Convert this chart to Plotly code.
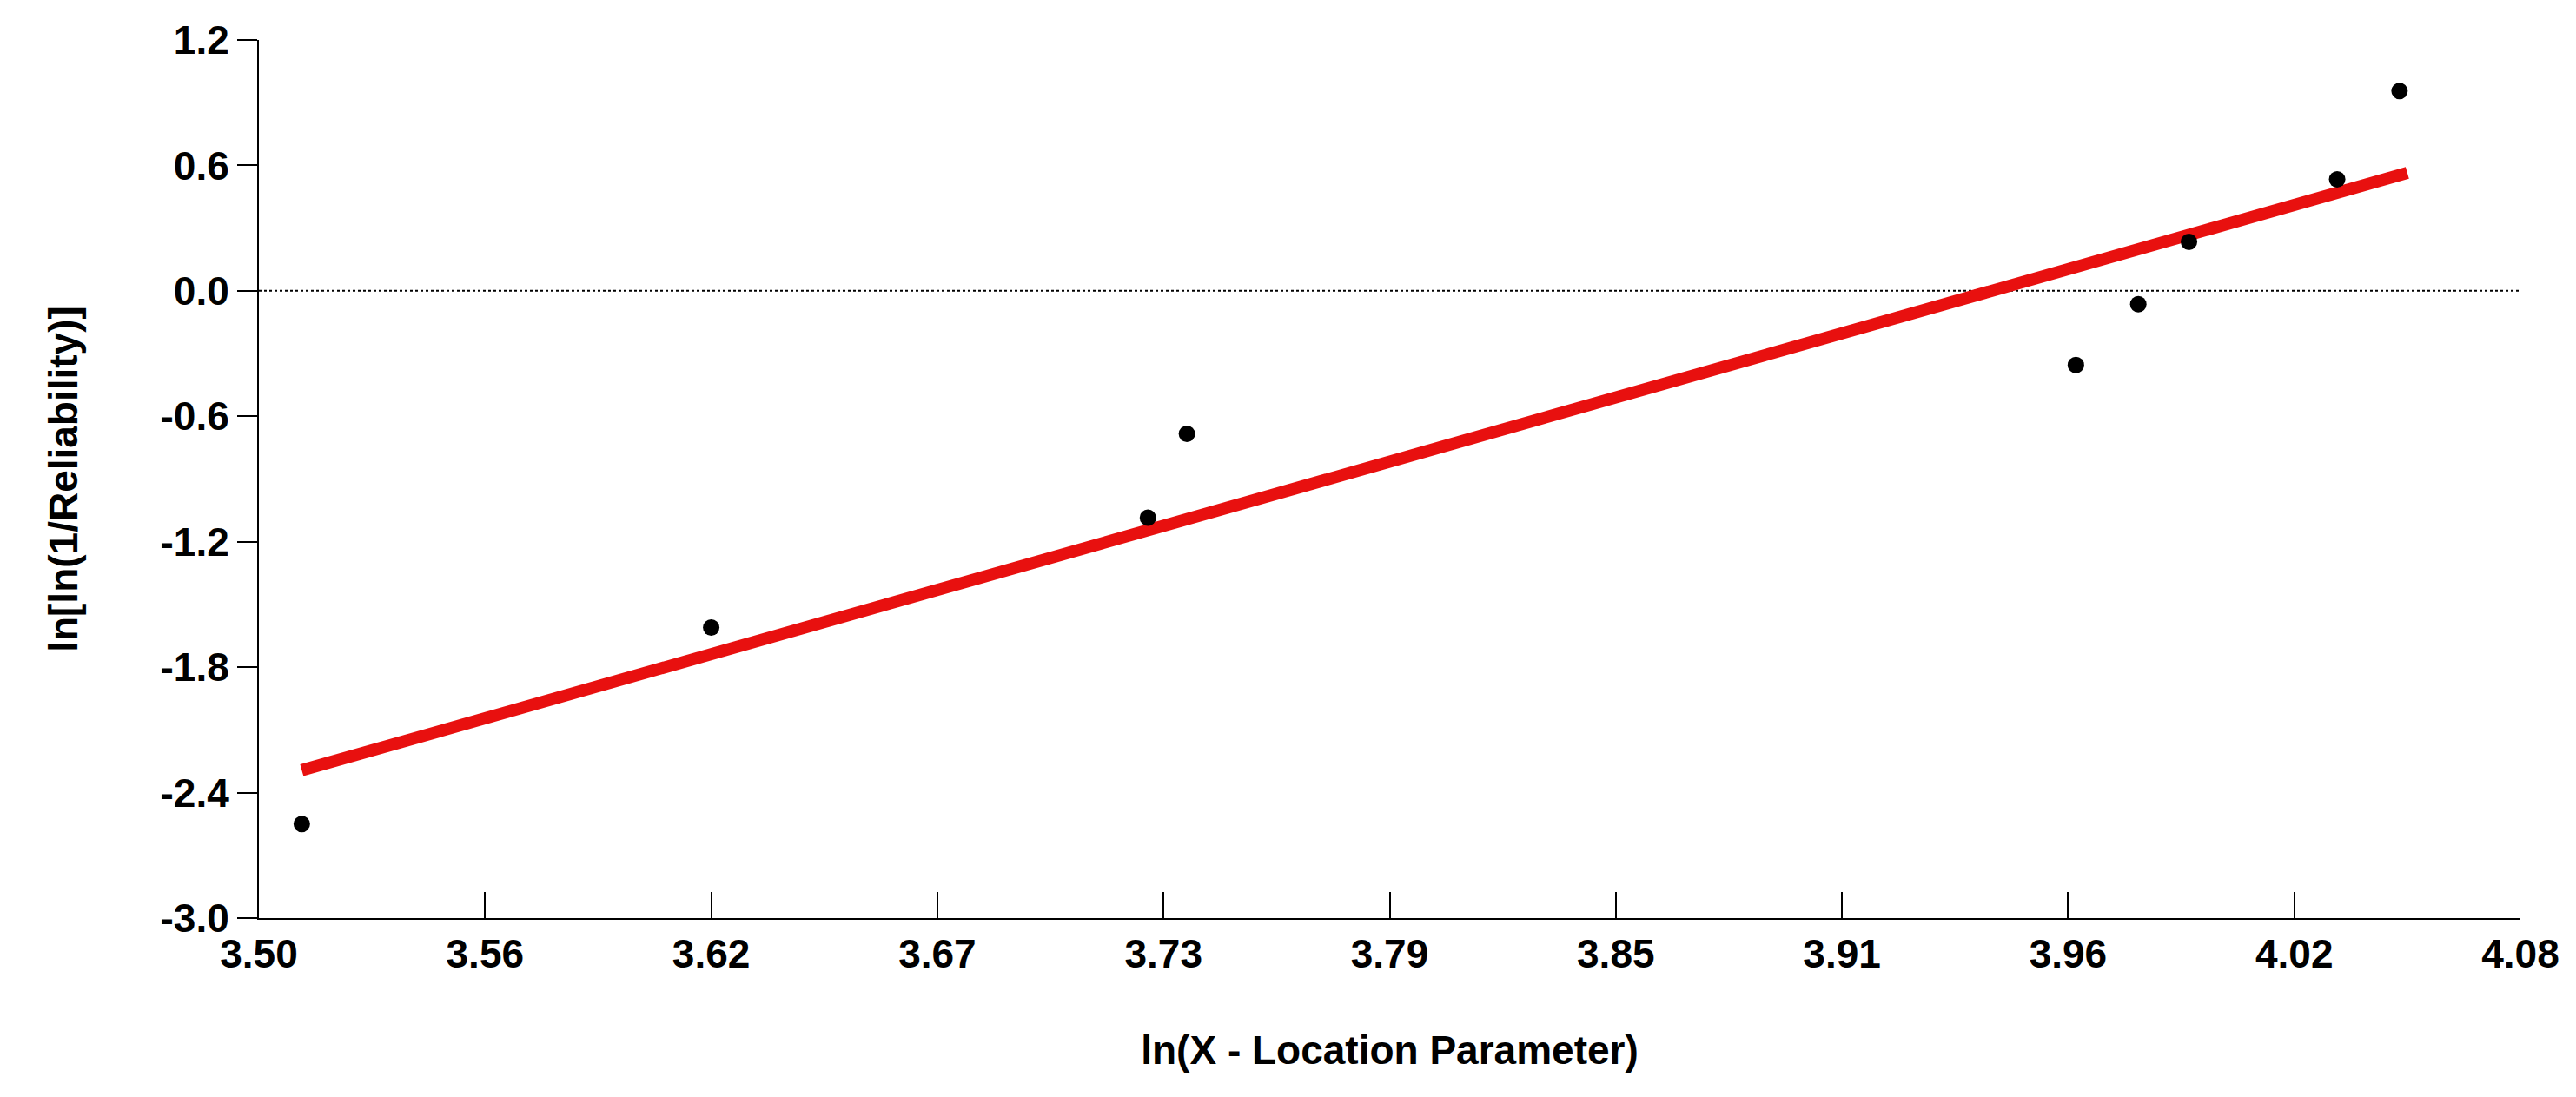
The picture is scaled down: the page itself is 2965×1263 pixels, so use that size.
import plotly.graph_objects as go

# data
x_pts = [3.511, 3.616, 3.728, 3.738, 3.966, 3.982, 3.995, 4.033, 4.049]
y_pts = [-2.55, -1.61, -1.085, -0.684, -0.355, -0.064, 0.234, 0.533, 0.956]
fit_x = [3.511, 4.051]
fit_y = [-2.293, 0.564]

x_tickvals = [3.50 + 0.058 * k for k in range(11)]
x_ticktext = ["3.50", "3.56", "3.62", "3.67", "3.73", "3.79", "3.85", "3.91", "3.96", "4.02", "4.08"]
y_tickvals = [-3.0, -2.4, -1.8, -1.2, -0.6, 0.0, 0.6, 1.2]
y_ticktext = ["-3.0", "-2.4", "-1.8", "-1.2", "-0.6", "0.0", "0.6", "1.2"]

fig = go.Figure()
fig.add_trace(go.Scatter(x=[3.50, 4.08], y=[0, 0], mode="lines",
                         line=dict(color="black", width=2, dash="dot"), hoverinfo="skip"))
fig.add_trace(go.Scatter(x=fit_x, y=fit_y, mode="lines",
                         line=dict(color="#e8100f", width=14)))
fig.add_trace(go.Scatter(x=x_pts, y=y_pts, mode="markers",
                         marker=dict(color="black", size=19)))

font = "Liberation Sans, Arial, sans-serif"
fig.update_layout(
    width=2965, height=1263, showlegend=False,
    plot_bgcolor="white", paper_bgcolor="white",
    margin=dict(l=290, r=72, t=34, b=214),
    font=dict(family=font, color="black"),
    xaxis=dict(range=[3.50, 4.08], tickvals=x_tickvals, ticktext=x_ticktext,
               showgrid=False, zeroline=False, showline=True, linecolor="black", linewidth=2,
               ticks="inside", ticklen=30, tickwidth=2, tickcolor="black",
               tickfont=dict(size=46, family=font, weight="bold"),
               title=dict(text="<b>ln(X - Location Parameter)</b>", font=dict(size=46), standoff=70)),
    yaxis=dict(range=[-3.0, 1.2], tickvals=y_tickvals, ticktext=y_ticktext,
               showgrid=False, zeroline=False, showline=True, linecolor="black", linewidth=2,
               ticks="outside", ticklen=23, tickwidth=2, tickcolor="black",
               tickfont=dict(size=46, family=font, weight="bold"),
               title=dict(text="<b>ln[ln(1/Reliability)]</b>", font=dict(size=46), standoff=80)),
)

fig.write_html("out.html")
